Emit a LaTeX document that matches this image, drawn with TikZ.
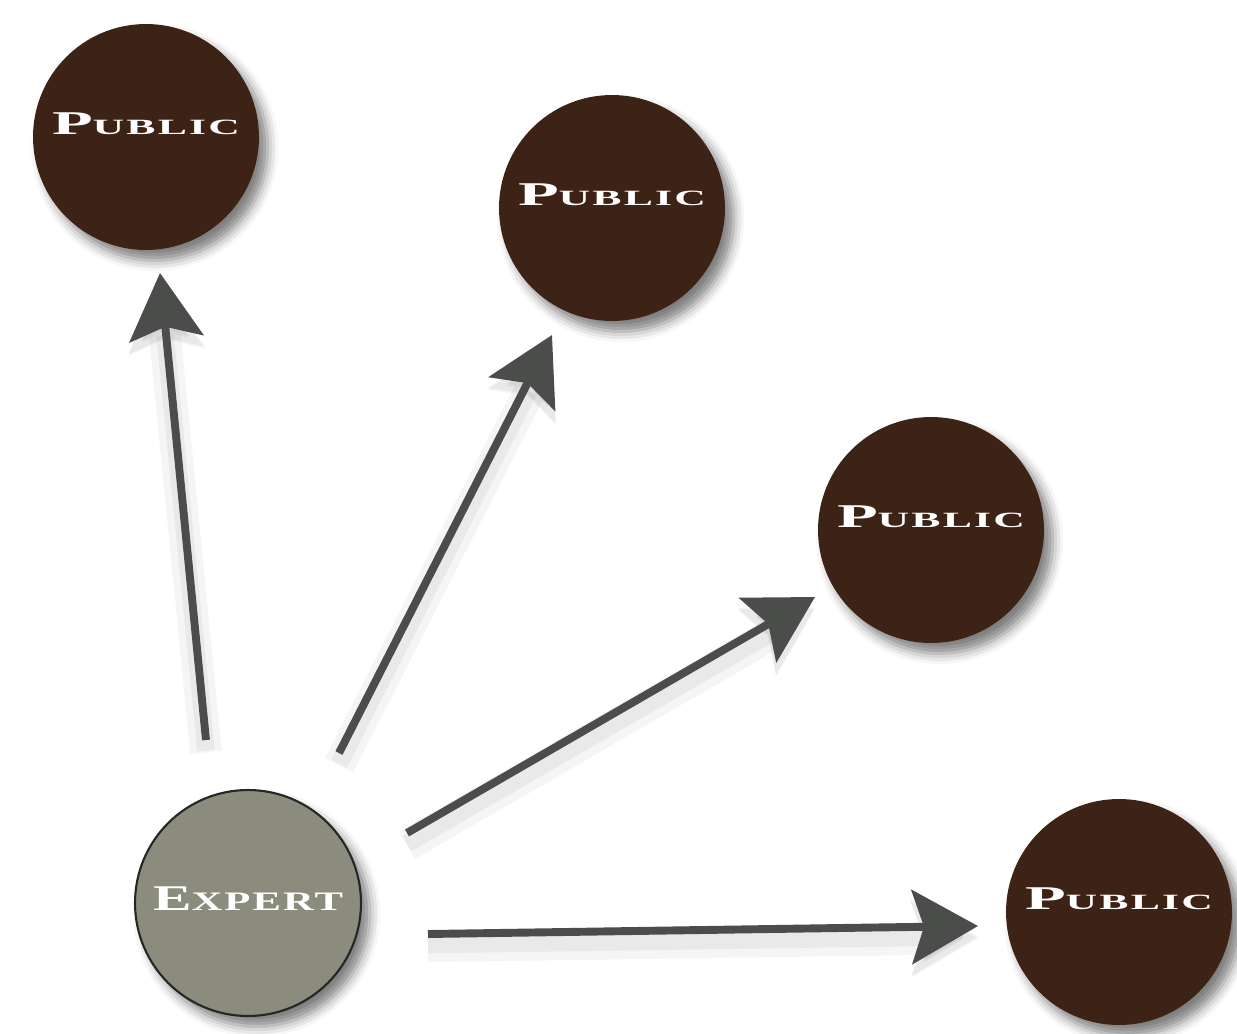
\documentclass[tikz,border=0pt]{standalone}
\usepackage{fontspec}
\usetikzlibrary{positioning,arrows.meta,shadows.blur}
\newfontfamily\platefont[LetterSpace=5]{Liberation Serif}
% width, size of the first letter, size of the rest, first letter, rest
\newcommand{\plate}[5]{\resizebox{#1}{\height}{{\fontsize{#2}{#2}\selectfont #4}{\fontsize{#3}{#3}\selectfont #5}}}
\definecolor{crowd}{HTML}{3D2316}
\definecolor{sage}{HTML}{8B8C7E}
\definecolor{shaft}{HTML}{4B4D4B}

\begin{document}
\begin{tikzpicture}[x=0.02cm, y=-0.02cm,
  person/.style={circle, minimum size=4.52cm, inner sep=0pt, text=white,
    font=\platefont\bfseries,
    blur shadow={shadow xshift=5pt, shadow yshift=-6pt, shadow blur radius=6pt, shadow opacity=50}},
  pub/.style={person, fill=crowd, text depth=0.52cm},
  expert/.style={person, fill=sage, draw=black!85, line width=1.2pt, text depth=0.16cm},
  arr/.style={-{Stealth[length=1.32cm, width=1.48cm, inset=0.24cm]}, line width=4.5pt, draw=shaft,
    preaction={draw=black, opacity=0.04, line width=18pt, transform canvas={yshift=-7pt}},
    preaction={draw=black, opacity=0.05, line width=10pt, transform canvas={yshift=-6pt}}}
]
\useasboundingbox (0,0) rectangle (1237,1034);
\node[pub] (pubA) at (146,137) {\plate{3.76cm}{18.9}{12.4}{P}{UBLIC}};
\node[pub] (pubB) at (612,208) {\plate{3.76cm}{18.9}{12.4}{P}{UBLIC}};
\node[pub] (pubC) at (931,530) {\plate{3.76cm}{18.9}{12.4}{P}{UBLIC}};
\node[pub] (pubD) at (1119,912) {\plate{3.76cm}{18.9}{12.4}{P}{UBLIC}};
\node[expert] (exp) at (248,903) {\plate{3.8cm}{20.6}{15.2}{E}{XPERT}};
% free ends of the four arrows
\coordinate (tailA) at (206,740);
\coordinate (tailB) at (339,753);
\coordinate (tailC) at (407,833);
\coordinate (tailD) at (428,934);
\coordinate (tipA) at (160,273);
\coordinate (tipB) at (552,335);
\coordinate (tipC) at (815,597);
\coordinate (tipD) at (978,926);
\draw[arr] (tailA) -- (tipA);
\draw[arr] (tailB) -- (tipB);
\draw[arr] (tailC) -- (tipC);
\draw[arr] (tailD) -- (tipD);
\end{tikzpicture}
\end{document}
